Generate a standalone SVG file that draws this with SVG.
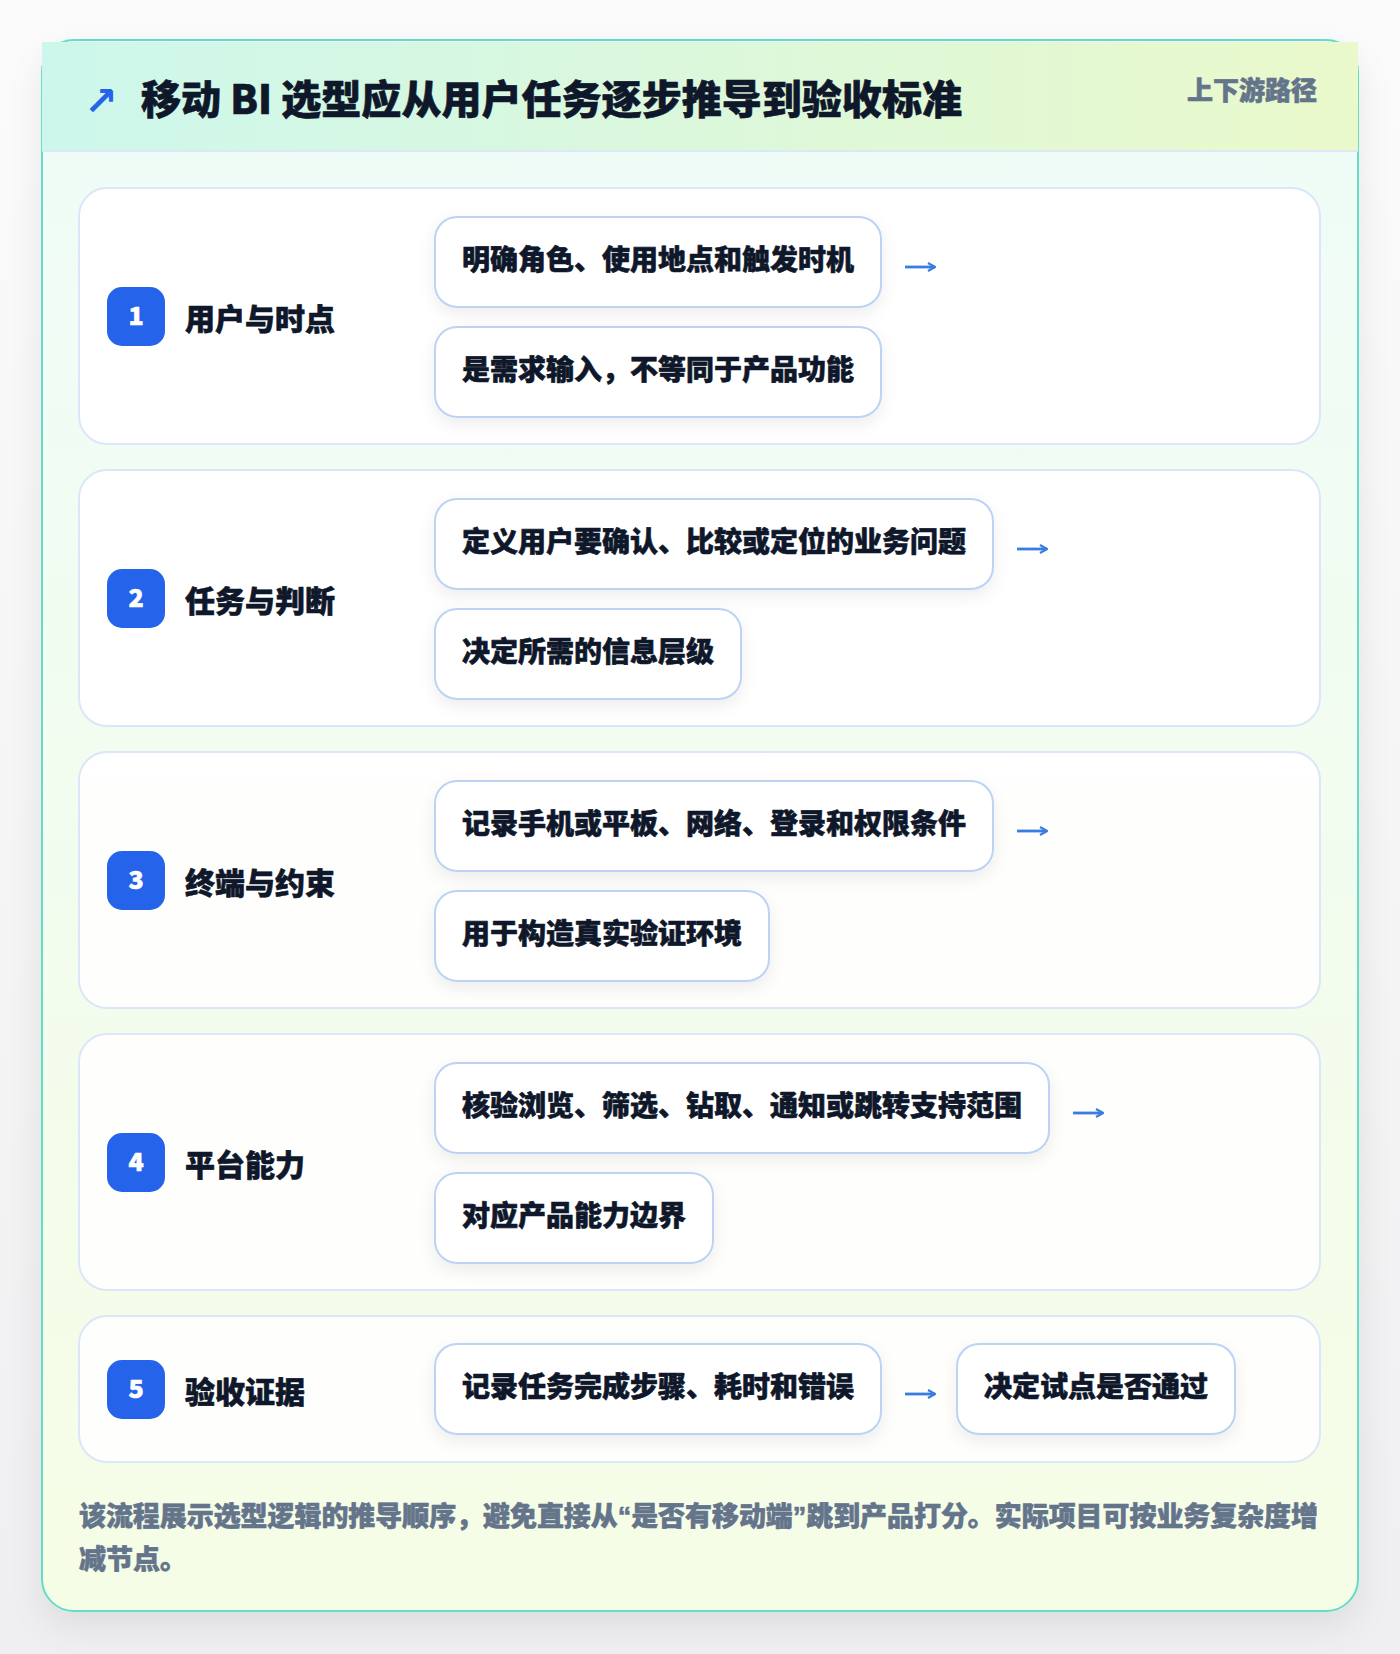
<svg xmlns="http://www.w3.org/2000/svg" width="1400" height="1654" viewBox="0 0 1400 1654">
<defs>
<linearGradient id="hdr" x1="0" y1="0" x2="1" y2="0">
<stop offset="0" stop-color="#cdf7ec"/>
<stop offset="1" stop-color="#eaf9cb"/>
</linearGradient>
<linearGradient id="body" x1="0" y1="0" x2="0" y2="1">
<stop offset="0" stop-color="#effcf8"/>
<stop offset="1" stop-color="#f6fde6"/>
</linearGradient>
<linearGradient id="page" x1="0" y1="0" x2="0" y2="1">
<stop offset="0" stop-color="#fbfbfb"/>
<stop offset="1" stop-color="#efeff1"/>
</linearGradient>
<filter id="cardShadow" x="-10%" y="-10%" width="120%" height="120%">
<feDropShadow dx="0" dy="14" stdDeviation="16" flood-color="#0f172a" flood-opacity="0.08"/>
</filter>
<filter id="boxShadow" x="-20%" y="-30%" width="140%" height="170%">
<feDropShadow dx="0" dy="6" stdDeviation="8" flood-color="#0f172a" flood-opacity="0.07"/>
</filter>
<marker id="ah" viewBox="0 0 10 10" refX="9" refY="5" markerWidth="10" markerHeight="10" markerUnits="userSpaceOnUse" orient="auto">
<path d="M2,1 L9,5 L2,9" fill="none" stroke="#3b7ddf" stroke-width="2.2"/>
</marker>
<style>
text{font-family:"Noto Sans CJK SC","Noto Sans",sans-serif;font-weight:900;stroke-width:0.6;stroke-linejoin:round}
.sec{fill:#ffffff;fill-opacity:0.88;stroke:#dbe7f8;stroke-width:2}
.box{fill:#ffffff;stroke:#bcd3f3;stroke-width:2;filter:url(#boxShadow)}
.badge{fill:#2563eb}
.num{fill:#ffffff;stroke:#ffffff;font-size:25px;text-anchor:middle}
.lbl{fill:#0f172a;stroke:#0f172a;font-size:30px}
.itm{fill:#0f172a;stroke:#0f172a;font-size:28px}
.arr{stroke:#3b7ddf;stroke-width:2.8;fill:none;marker-end:url(#ah)}
.q{font-family:"Liberation Sans",sans-serif}
</style>
</defs>
<rect x="0" y="0" width="1400" height="1654" fill="url(#page)"/>
<g id="card">
<rect x="42" y="40" width="1316" height="1571" rx="32" fill="url(#body)" stroke="#63dcc8" stroke-width="2" filter="url(#cardShadow)"/>
<rect x="42" y="42" width="1316" height="109" fill="url(#hdr)"/>
<line x1="42" y1="151" x2="1358" y2="151" stroke="#dbe8f6" stroke-width="2"/>
<text x="84" y="115" font-size="40" fill="#2563eb" style="font-family:'DejaVu Sans',sans-serif;font-weight:700">↗</text>
<text x="141" y="114" font-size="40" fill="#0f172a" stroke="#0f172a" stroke-width="0.8" textLength="821" lengthAdjust="spacingAndGlyphs">移动 BI 选型应从用户任务逐步推导到验收标准</text>
<text x="1317" y="100" font-size="26" fill="#64748b" stroke="#64748b" text-anchor="end">上下游路径</text>
</g>
<g id="step1">
<rect class="sec" x="79" y="188" width="1241" height="256" rx="28"/>
<rect class="badge" x="107" y="287" width="58" height="59" rx="15"/>
<text class="num" x="136" y="325">1</text>
<text class="lbl" x="185" y="330">用户与时点</text>
<rect class="box" x="435" y="217" width="446" height="90" rx="22"/>
<text class="itm" x="462" y="270">明确角色、使用地点和触发时机</text>
<rect class="box" x="435" y="327" width="446" height="90" rx="22"/>
<text class="itm" x="462" y="380">是需求输入，不等同于产品功能</text>
</g>
<g id="step2">
<rect class="sec" x="79" y="470" width="1241" height="256" rx="28"/>
<rect class="badge" x="107" y="569" width="58" height="59" rx="15"/>
<text class="num" x="136" y="607">2</text>
<text class="lbl" x="185" y="612">任务与判断</text>
<rect class="box" x="435" y="499" width="558" height="90" rx="22"/>
<text class="itm" x="462" y="552">定义用户要确认、比较或定位的业务问题</text>
<rect class="box" x="435" y="609" width="306" height="90" rx="22"/>
<text class="itm" x="462" y="662">决定所需的信息层级</text>
</g>
<g id="step3">
<rect class="sec" x="79" y="752" width="1241" height="256" rx="28"/>
<rect class="badge" x="107" y="851" width="58" height="59" rx="15"/>
<text class="num" x="136" y="889">3</text>
<text class="lbl" x="185" y="894">终端与约束</text>
<rect class="box" x="435" y="781" width="558" height="90" rx="22"/>
<text class="itm" x="462" y="834">记录手机或平板、网络、登录和权限条件</text>
<rect class="box" x="435" y="891" width="334" height="90" rx="22"/>
<text class="itm" x="462" y="944">用于构造真实验证环境</text>
</g>
<g id="step4">
<rect class="sec" x="79" y="1034" width="1241" height="256" rx="28"/>
<rect class="badge" x="107" y="1133" width="58" height="59" rx="15"/>
<text class="num" x="136" y="1171">4</text>
<text class="lbl" x="185" y="1176">平台能力</text>
<rect class="box" x="435" y="1063" width="614" height="90" rx="22"/>
<text class="itm" x="462" y="1116">核验浏览、筛选、钻取、通知或跳转支持范围</text>
<rect class="box" x="435" y="1173" width="278" height="90" rx="22"/>
<text class="itm" x="462" y="1226">对应产品能力边界</text>
</g>
<g id="step5">
<rect class="sec" x="79" y="1316" width="1241" height="146" rx="28"/>
<rect class="badge" x="107" y="1360" width="58" height="59" rx="15"/>
<text class="num" x="136" y="1398">5</text>
<text class="lbl" x="185" y="1403">验收证据</text>
<rect class="box" x="435" y="1344" width="446" height="90" rx="22"/>
<text class="itm" x="462" y="1397">记录任务完成步骤、耗时和错误</text>
<rect class="box" x="957" y="1344" width="278" height="90" rx="22"/>
<text class="itm" x="984" y="1397">决定试点是否通过</text>
</g>
<g id="connectors">
<line class="arr" x1="905" y1="267" x2="935" y2="267"/>
<line class="arr" x1="1017" y1="549" x2="1047" y2="549"/>
<line class="arr" x1="1017" y1="831" x2="1047" y2="831"/>
<line class="arr" x1="1073" y1="1113" x2="1103" y2="1113"/>
<line class="arr" x1="905" y1="1394" x2="935" y2="1394"/>
</g>
<g id="footer">
<text x="79" y="1526" font-size="27" fill="#64748b" stroke="#64748b" textLength="1239" lengthAdjust="spacingAndGlyphs">该流程展示选型逻辑的推导顺序，避免直接从<tspan class="q">“</tspan>是否有移动端<tspan class="q">”</tspan>跳到产品打分。实际项目可按业务复杂度增</text>
<text x="79" y="1569" font-size="27" fill="#64748b" stroke="#64748b">减节点。</text>
</g>
</svg>
